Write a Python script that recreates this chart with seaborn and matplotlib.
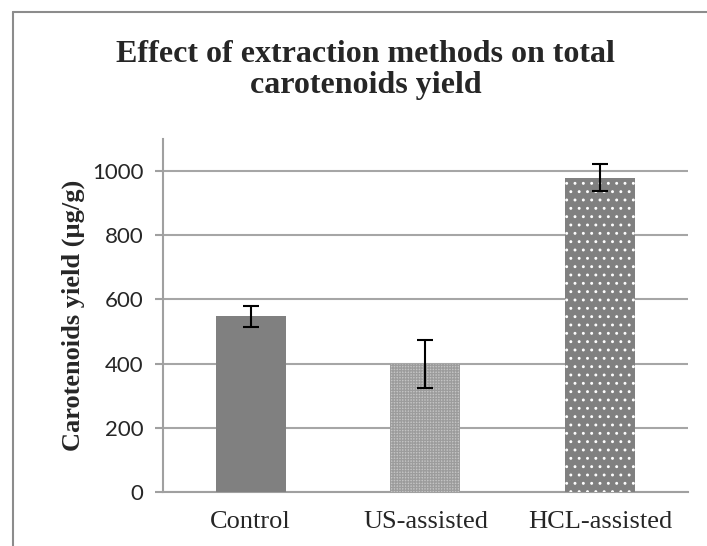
import matplotlib
matplotlib.use("Agg")
import matplotlib.pyplot as plt
import seaborn as sns
from matplotlib.lines import Line2D

# data
methods = ["Control", "US-assisted", "HCL-assisted"]
yields = [547, 399, 980]
errors = [33, 74, 43]

bar_colors = ["#808080", "#c4c4c4", "#808080"]

sns.set_style("white")
plt.rcParams["hatch.linewidth"] = 0.9

fig = plt.figure(figsize=(7.07, 5.46), dpi=100)
ax = fig.add_axes([0.2306, 0.0989, 0.7424, 0.6465])

sns.barplot(x=methods, y=yields, hue=methods, palette=bar_colors, legend=False,
            width=0.4, errorbar=None, saturation=1, ax=ax, zorder=3)

# patterns on the second and third bars
bars = ax.patches
bars[0].set_linewidth(0)
bars[1].set_hatch("++++++")
bars[1].set_edgecolor("#9c9c9c")
bars[1].set_linewidth(0)
bars[2].set_hatch("..")
bars[2].set_edgecolor("white")
bars[2].set_linewidth(0)

ax.errorbar(ax.get_xticks(), yields, yerr=errors, fmt="none", ecolor="black",
            elinewidth=1.5, capsize=6, capthick=1.5, zorder=4)

ax.set_ylim(0, 1100)
ax.set_xlim(-0.5, 2.5)
ax.set_yticks([0, 200, 400, 600, 800, 1000])
ax.yaxis.grid(True, color="#a6a6a6", linewidth=1.5, zorder=0)
ax.set_axisbelow(True)

for side in ["top", "right"]:
    ax.spines[side].set_visible(False)
for side in ["left", "bottom"]:
    ax.spines[side].set_color("#a0a0a0")
    ax.spines[side].set_linewidth(1.5)

ax.set_xticks([-0.5, 0.5, 1.5, 2.5], minor=True)
ax.tick_params(axis="x", which="major", length=0, pad=14)
ax.tick_params(axis="x", which="minor", length=7, width=1.5, color="#a0a0a0", direction="out")
ax.tick_params(axis="y", length=6, width=1.5, color="#a0a0a0", direction="out", pad=8)
ax.tick_params(axis="y", which="major", left=True)

for lab in ax.get_xticklabels():
    lab.set_fontfamily("Liberation Serif")
    lab.set_fontsize(19)
for lab in ax.get_yticklabels():
    lab.set_fontfamily("Lato")
    lab.set_fontsize(16)

ax.set_xlabel("")
ax.set_ylabel("Carotenoids yield (µg/g)", fontfamily="Liberation Serif",
              fontweight="bold", fontsize=19)
ax.yaxis.set_label_coords(-0.149, 0.5)

fig.text(0.517, 0.872, "Effect of extraction methods on total\ncarotenoids yield",
         ha="center", va="center", fontfamily="Liberation Serif",
         fontweight="bold", fontsize=23, linespacing=1.12)

# outer chart frame (left and top edges visible)
fig.add_artist(Line2D([0.0184, 0.0184], [0, 0.978], transform=fig.transFigure,
                      color="#8c8c8c", linewidth=1.5))
fig.add_artist(Line2D([0.0184, 1.0], [0.978, 0.978], transform=fig.transFigure,
                      color="#8c8c8c", linewidth=1.5))

fig.savefig("out.png", dpi=100, facecolor="white")
